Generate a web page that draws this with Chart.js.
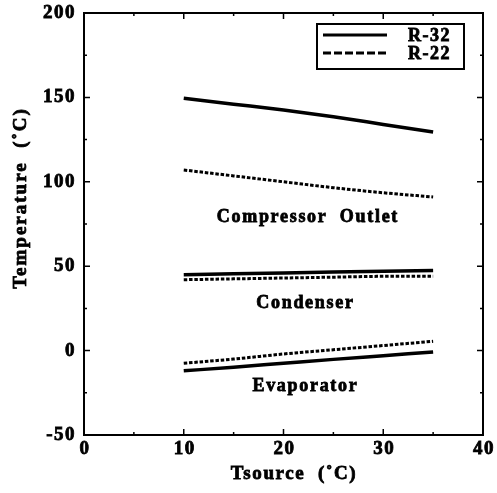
<!DOCTYPE html>
<html lang="en">
<head>
  <meta charset="UTF-8" />
  <title>Temperature vs Tsource</title>
  <script src="https://cdn.jsdelivr.net/npm/chart.js"></script>
  <style>
    html, body { margin: 0; padding: 0; background: #fff; }
    #wrap { width: 497px; height: 493px; }
  </style>
</head>
<body>
<div id="wrap"><canvas id="tempChart" width="497" height="493"></canvas></div>

<script>
  // source temperature (°C)
  const tsource = [10, 15, 20, 25, 30, 35];

  // compressor outlet
  const compR32 = [149.5, 146, 142.5, 138.5, 134, 129.5];
  const compR22 = [107, 103.5, 100, 96.5, 93.5, 91];
  // condenser
  const condR32 = [45, 45.5, 46, 46.5, 47, 47.5];
  const condR22 = [42, 42.5, 43, 43.5, 44, 44];
  // evaporator
  const evapR32 = [-12, -9.8, -7.5, -5.2, -3, -0.8];
  const evapR22 = [-7.5, -5, -2, 0.5, 3, 5.5];

  const xTicks = [0, 10, 20, 30, 40];
  const yTicks = [-50, 0, 50, 100, 150, 200];
  const legendNames = ["R-32", "R-22"];
  const groupLabels = ["Compressor  Outlet", "Condenser", "Evaporator"];

  const SERIF = "'Liberation Serif', 'Times New Roman', serif";

  const pts = ys => tsource.map((x, i) => ({ x, y: ys[i] }));

  function series(ys, dashed) {
    return {
      data: pts(ys),
      borderColor: "#000",
      borderWidth: dashed ? 3 : 3.5,
      borderDash: dashed ? [3.5, 1.8] : [],
      pointRadius: 0,
      cubicInterpolationMode: "monotone",
      fill: false
    };
  }

  // heavy text: fill plus a thin stroke
  function heavyText(ctx, str, x, y, size, spacing) {
    ctx.font = "bold " + size + "px " + SERIF;
    ctx.letterSpacing = spacing + "px";
    ctx.lineWidth = 0.8;
    ctx.fillText(str, x, y);
    ctx.strokeText(str, x, y);
  }

  // frame, inward ticks, tick labels, legend box and curve labels
  const decorations = {
    id: "decorations",
    afterDraw(chart) {
      const ctx = chart.ctx;
      const { left, right, top, bottom } = chart.chartArea;
      const xs = chart.scales.x, ys = chart.scales.y;
      ctx.save();
      ctx.strokeStyle = "#000";
      ctx.fillStyle = "#000";
      ctx.lineWidth = 2;
      ctx.setLineDash([]);
      ctx.strokeRect(left, top, right - left, bottom - top);

      ctx.lineWidth = 1.5;
      ctx.beginPath();
      for (let v = 0; v <= 40; v += 5) {
        const px = xs.getPixelForValue(v);
        const len = v % 10 === 0 ? 6 : 3;
        ctx.moveTo(px, bottom); ctx.lineTo(px, bottom - len);
        ctx.moveTo(px, top); ctx.lineTo(px, top + len);
      }
      for (let v = -50; v <= 200; v += 25) {
        const py = ys.getPixelForValue(v);
        const len = v % 50 === 0 ? 6 : 3;
        ctx.moveTo(left, py); ctx.lineTo(left + len, py);
        ctx.moveTo(right, py); ctx.lineTo(right - len, py);
      }
      ctx.stroke();

      // tick labels
      ctx.textBaseline = "middle";
      ctx.textAlign = "right";
      yTicks.forEach(v => heavyText(ctx, String(v), 76, ys.getPixelForValue(v), 19, 1.5));
      ctx.textAlign = "center";
      xTicks.forEach(v => heavyText(ctx, String(v), xs.getPixelForValue(v) + 1, 449, 19, 1.5));

      // legend
      ctx.lineWidth = 2;
      ctx.strokeRect(317, 24, 147, 45);
      ctx.lineWidth = 3;
      ctx.beginPath(); ctx.moveTo(323, 35); ctx.lineTo(387, 35); ctx.stroke();
      ctx.setLineDash([8, 3]);
      ctx.beginPath(); ctx.moveTo(323, 53); ctx.lineTo(387, 53); ctx.stroke();
      ctx.setLineDash([]);
      ctx.textAlign = "left";
      heavyText(ctx, legendNames[0], 408, 36, 18, 1.5);
      heavyText(ctx, legendNames[1], 408, 54, 18, 1.5);

      // curve group labels
      ctx.textAlign = "center";
      const spots = [[22.45, 79], [22.2, 28.2], [22.2, -21]];
      groupLabels.forEach((t, i) => {
        heavyText(ctx, t, xs.getPixelForValue(spots[i][0]), ys.getPixelForValue(spots[i][1]), 18, 1.7);
      });

      // axis titles
      heavyText(ctx, "Tsource  (˚C)", 294, 474, 19, 1.6);
      ctx.translate(21, 198);
      ctx.rotate(-Math.PI / 2);
      heavyText(ctx, "Temperature  (˚C)", 0, 0, 19, 2);
      ctx.restore();
      ctx.letterSpacing = "0px";
    }
  };

  new Chart(document.getElementById("tempChart"), {
    type: "line",
    data: {
      datasets: [
        series(compR32, false), series(compR22, true),
        series(condR32, false), series(condR22, true),
        series(evapR32, false), series(evapR22, true)
      ]
    },
    options: {
      responsive: false,
      animation: false,
      layout: { padding: { top: 13, right: 14, left: 0, bottom: 0 } },
      plugins: { legend: { display: false }, tooltip: { enabled: false } },
      scales: {
        x: {
          type: "linear",
          min: 0, max: 40,
          border: { display: false },
          grid: { display: false, drawTicks: false },
          ticks: { display: false, stepSize: 10 },
          afterFit: s => { s.height = 58; }
        },
        y: {
          min: -50, max: 200,
          border: { display: false },
          grid: { display: false, drawTicks: false },
          ticks: { display: false, stepSize: 50 },
          afterFit: s => { s.width = 84; }
        }
      }
    },
    plugins: [decorations]
  });
</script>
</body>
</html>
